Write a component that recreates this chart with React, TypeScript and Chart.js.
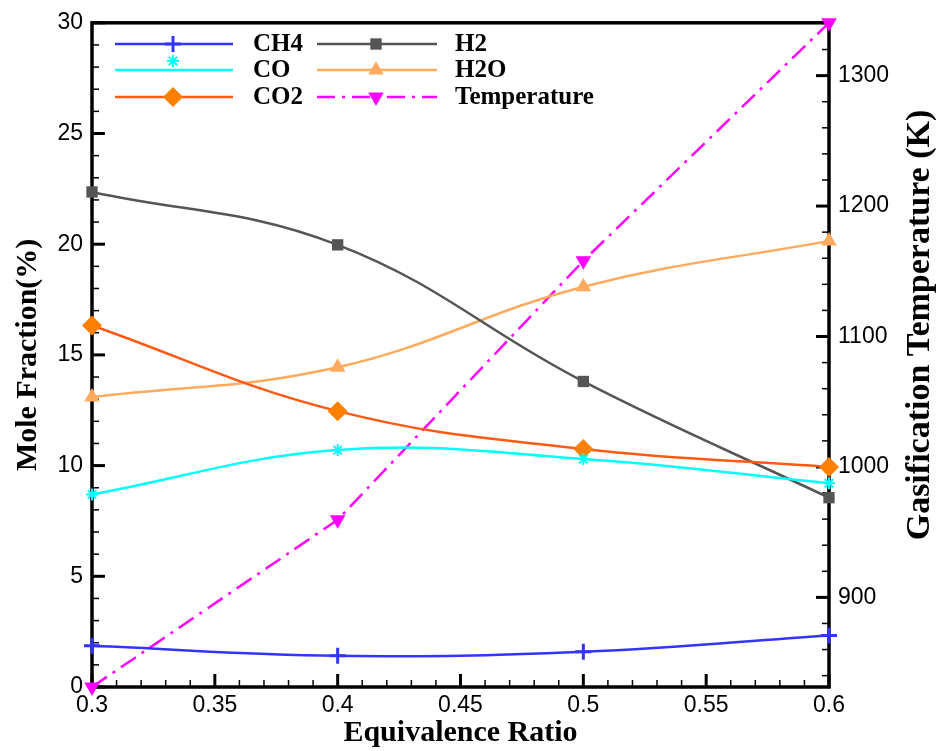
import React, { useEffect, useRef } from "react";
import { Chart, registerables } from "chart.js";
Chart.register(...registerables);

const ratios = [0.3, 0.4, 0.5, 0.6];
const ch4 = [1.86, 1.41, 1.59, 2.33];
const co = [8.7, 10.7, 10.3, 9.2];
const co2 = [16.33, 12.46, 10.75, 9.94];
const h2 = [22.36, 19.97, 13.8, 8.55];
const h2o = [13.1, 14.44, 18.08, 20.15];
const temperature = [831.3, 959.5, 1158, 1340.5];
const xTicks = [0.3, 0.35, 0.4, 0.45, 0.5, 0.55, 0.6];
const tempTicks = [900, 1000, 1100, 1200, 1300];
const rightTitle = "Gasification Temperature (K)";

const tickFont = { family: "'Liberation Sans', Arial, sans-serif", size: 23 };
const serif = "'Liberation Serif', 'Times New Roman', serif";

function pts(ys: number[]) {
  return ratios.map((x, i) => ({ x, y: ys[i] }));
}

const framePlugin = {
  id: "frame",
  beforeDatasetsDraw(chart: any) {
    const { ctx, chartArea } = chart;
    const { left, right, top, bottom } = chartArea;
    const xs = chart.scales.x;
    const ys = chart.scales.y;
    const y2 = chart.scales.y2;
    ctx.save();
    ctx.strokeStyle = "#000";
    for (let i = 0; i <= 30; i++) {
      const v = 0.3 + i * 0.01;
      const px = xs.getPixelForValue(v);
      const major = i % 5 === 0;
      ctx.lineWidth = major ? 3 : 1.5;
      ctx.beginPath();
      ctx.moveTo(px, bottom);
      ctx.lineTo(px, bottom - (major ? 13 : 7));
      ctx.stroke();
    }
    for (let v = 0; v <= 30; v++) {
      const py = ys.getPixelForValue(v);
      const major = v % 5 === 0;
      ctx.lineWidth = major ? 3 : 1.5;
      ctx.beginPath();
      ctx.moveTo(left, py);
      ctx.lineTo(left + (major ? 13 : 7), py);
      ctx.stroke();
    }
    for (let v = 840; v <= 1340; v += 20) {
      const py = y2.getPixelForValue(v);
      const major = v % 100 === 0;
      ctx.lineWidth = major ? 3 : 1.5;
      ctx.beginPath();
      ctx.moveTo(right, py);
      ctx.lineTo(right - (major ? 13 : 7), py);
      ctx.stroke();
    }
    ctx.lineWidth = 3.5;
    ctx.strokeRect(left, top, right - left, bottom - top);
    // right axis title, reading bottom-to-top
    ctx.translate(920, 325);
    ctx.rotate(-Math.PI / 2);
    ctx.fillStyle = "#000";
    ctx.font = "bold 34px " + serif;
    ctx.textAlign = "center";
    ctx.textBaseline = "middle";
    ctx.fillText(rightTitle, 0, 0);
    ctx.restore();
  },
};

const legendPlugin = {
  id: "customLegend",
  afterDraw(chart: any) {
    const { ctx } = chart;
    const cols = [
      { lx1: 115, lx2: 233, mx: 173, tx: 253 },
      { lx1: 317, lx2: 437, mx: 376, tx: 455 },
    ];
    const rows = [44, 70, 97];
    chart.data.datasets.forEach((ds: any, i: number) => {
      const c = cols[Math.floor(i / 3)];
      const y = rows[i % 3];
      ctx.save();
      ctx.strokeStyle = ds.borderColor;
      ctx.lineWidth = ds.borderWidth;
      ctx.setLineDash(ds.borderDash || []);
      ctx.beginPath();
      ctx.moveTo(c.lx1, y);
      ctx.lineTo(c.lx2, y);
      ctx.stroke();
      ctx.setLineDash([]);
      const el = chart.getDatasetMeta(i).data[0];
      if (el) {
        const sx = el.x, sy = el.y;
        el.x = c.mx;
        el.y = ds.legendMarkerOffset ? y + ds.legendMarkerOffset : y;
        el.draw(ctx);
        el.x = sx;
        el.y = sy;
      }
      ctx.fillStyle = "#000";
      ctx.font = "bold 25px " + serif;
      ctx.textBaseline = "middle";
      ctx.textAlign = "left";
      ctx.fillText(ds.label, c.tx, y + 1);
      ctx.restore();
    });
  },
};

export default function App() {
  const ref = useRef<HTMLCanvasElement | null>(null);
  useEffect(() => {
    if (!ref.current) return;
    const common = { fill: false, tension: 0.4, borderWidth: 2.5, clip: false as const };
    const chart = new Chart(ref.current, {
      type: "line",
      data: {
        datasets: [
          { ...common, label: "CH4", data: pts(ch4), borderColor: "#3434ff", backgroundColor: "#3434ff", pointStyle: "cross", pointRadius: 8, pointBorderWidth: 3, yAxisID: "y" },
          { ...common, label: "CO", data: pts(co), borderColor: "#00ffff", backgroundColor: "#00ffff", pointStyle: "star", pointRadius: 6, pointBorderWidth: 2, yAxisID: "y", legendMarkerOffset: -9 } as any,
          { ...common, label: "CO2", data: pts(co2), borderColor: "#ff5a14", backgroundColor: "#ff8000", pointStyle: "rectRot", pointRadius: 10, pointBorderWidth: 0, pointBorderColor: "#ff8000", yAxisID: "y" },
          { ...common, label: "H2", data: pts(h2), borderColor: "#555555", backgroundColor: "#555555", pointStyle: "rect", pointRadius: 8, pointBorderWidth: 0, yAxisID: "y" },
          { ...common, label: "H2O", data: pts(h2o), borderColor: "#ffaa5c", backgroundColor: "#ffaa5c", pointStyle: "triangle", pointRadius: 9, pointBorderWidth: 0, yAxisID: "y" },
          { ...common, tension: 0, label: "Temperature", data: pts(temperature), borderColor: "#ff00ff", backgroundColor: "#ff00ff", borderDash: [18, 7, 3, 7], pointStyle: "triangle", pointRotation: 180, pointRadius: 9, pointBorderWidth: 0, yAxisID: "y2" },
        ],
      },
      options: {
        animation: false,
        responsive: false,
        maintainAspectRatio: false,
        layout: { padding: { top: 20, left: 0, right: 0, bottom: 0 } },
        plugins: { legend: { display: false }, tooltip: { enabled: false } },
        scales: {
          x: {
            type: "linear",
            min: 0.3,
            max: 0.6,
            afterBuildTicks: (s: any) => {
              s.ticks = xTicks.map((v) => ({ value: v }));
            },
            afterFit: (s: any) => { s.height = 64; },
            ticks: { font: tickFont, color: "#000", padding: 5, maxRotation: 0, callback: (v: any) => String(+Number(v).toFixed(2)) },
            grid: { display: false, drawTicks: false },
            border: { display: false },
            title: { display: true, text: "Equivalence Ratio", font: { family: serif, size: 30, weight: "bold" }, color: "#000", padding: { top: 0, bottom: 0 } },
          },
          y: {
            type: "linear",
            position: "left",
            min: 0,
            max: 30,
            ticks: { stepSize: 5, font: tickFont, color: "#000", padding: 9 },
            afterFit: (s: any) => { s.width = 92; },
            grid: { display: false, drawTicks: false },
            border: { display: false },
            title: { display: true, text: "Mole Fraction(%)", font: { family: serif, size: 30, weight: "bold" }, color: "#000", padding: { top: 10, bottom: 0 } },
          },
          y2: {
            type: "linear",
            position: "right",
            min: 831.3,
            max: 1340.5,
            afterBuildTicks: (s: any) => {
              s.ticks = tempTicks.map((v) => ({ value: v }));
            },
            ticks: { font: tickFont, color: "#000", padding: 9, callback: (v: any) => String(v) },
            afterFit: (s: any) => { s.width = 107; },
            grid: { display: false, drawTicks: false },
            border: { display: false },
            title: { display: false },
          },
        },
      },
      plugins: [framePlugin, legendPlugin],
    });
    return () => chart.destroy();
  }, []);
  return (
    <div style={{ position: "absolute", left: 0, top: 0, width: 936, height: 751, background: "#fff" }}>
      <canvas ref={ref} width={936} height={751} style={{ width: 936, height: 751 }} />
    </div>
  );
}
